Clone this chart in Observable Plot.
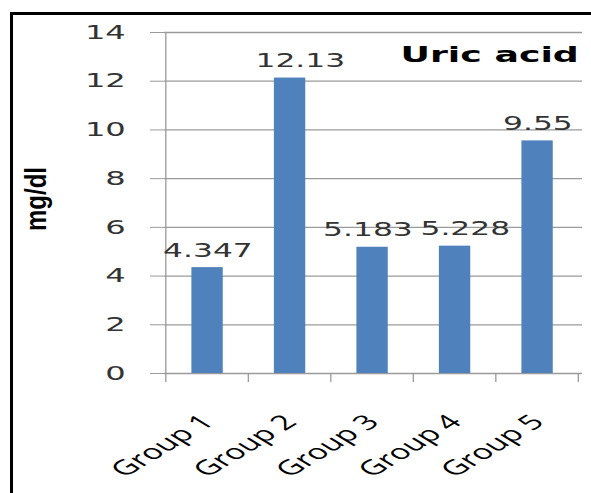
<!DOCTYPE html>
<html>
<head>
<meta charset="utf-8">
<script src="https://cdn.jsdelivr.net/npm/d3@7"></script>
<script src="https://cdn.jsdelivr.net/npm/@observablehq/plot@0.6"></script>
<style>
  html, body { margin: 0; padding: 0; background: #fff; overflow: hidden; }
  #wrap { position: relative; width: 591px; height: 493px; overflow: hidden; background: #fff; }
  #border { position: absolute; left: 10px; top: 12px; width: 700px; height: 700px; border: 3px solid #000; box-sizing: border-box; pointer-events: none; }
  #ylabel { position: absolute; left: 36px; top: 199px; transform: translate(-50%, -50%) rotate(-90deg) scaleY(1.25); font-family: "Liberation Sans", Arial, sans-serif; font-weight: bold; font-size: 24px; color: #000; white-space: nowrap; line-height: 1; }
  #chart { position: absolute; left: 0; top: 0; }
  #chart svg * { vector-effect: non-scaling-stroke; }
</style>
</head>
<body>
<div id="wrap">
  <div id="chart"></div>
  <div id="ylabel">mg/dl</div>
  <div id="border"></div>
</div>
<script>
const groups = ["Group 1", "Group 2", "Group 3", "Group 4", "Group 5"];
const values = [4.347, 12.13, 5.183, 5.228, 9.55];
const valueLabels = ["4.347", "12.13", "5.183", "5.228", "9.55"];
const yTicks = [0, 2, 4, 6, 8, 10, 12, 14];
const title = "Uric acid";

const data = groups.map((g, i) => ({group: g, value: values[i], label: valueLabels[i]}));

const SCREEN_W = 591, H = 493;
const SX = 1.65;               // horizontal stretch of the original picture
const W = SCREEN_W / SX;       // logical width

const gridColor = "#9a9a9a";

function axisLines(index, scales, channels, dims) {
  const x = scales.x, y = scales.y;
  const step = x(groups[1]) - x(groups[0]);
  const bw = typeof x.bandwidth === "function" ? x.bandwidth()
    : (scales.scales && scales.scales.x && scales.scales.x.bandwidth != null ? scales.scales.x.bandwidth : 0);
  const y0 = y(0), yTop = y(d3.max(yTicks));
  const g = d3.create("svg:g").attr("stroke", gridColor).attr("fill", "none").attr("stroke-width", 1.3);
  const xl = x(groups[0]) + bw / 2 - step / 2;
  g.append("line").attr("x1", xl).attr("x2", xl).attr("y1", yTop).attr("y2", y0 + 9);
  for (const grp of groups) {
    const xb = x(grp) + bw / 2 + step / 2;
    g.append("line").attr("x1", xb).attr("x2", xb).attr("y1", y0).attr("y2", y0 + 9);
  }
  return g.node();
}

const chart = Plot.plot({
  width: W,
  height: H,
  marginLeft: 164 / SX,
  marginRight: (SCREEN_W - 582) / SX,
  marginTop: 32,
  marginBottom: 120,
  style: {background: "transparent", fontFamily: "DejaVu Sans, sans-serif", color: "#333", overflow: "visible"},
  x: {domain: groups, paddingInner: 0.617, paddingOuter: 0.3085, label: null},
  y: {domain: [0, 14], label: null},
  marks: [
    Plot.gridY(yTicks, {stroke: gridColor, strokeOpacity: 1, strokeWidth: 1.3}),
    Plot.axisY(yTicks, {tickSize: 14 / SX, tickPadding: 25 / SX, stroke: gridColor, strokeOpacity: 1, fontSize: 19.5, fill: "#333", label: null}),
    Plot.barY(data, {x: "group", y: "value", fill: "#4F81BD"}),
    axisLines,
    Plot.text(data, {filter: d => d.group === "Group 1" || d.group === "Group 5", x: "group", y: "value", text: "label", lineAnchor: "bottom", dy: -11, fontSize: 19, fill: "#333"}),
    Plot.text(data, {filter: d => d.group === "Group 2" || d.group === "Group 4", x: "group", y: "value", text: "label", lineAnchor: "bottom", dy: -11, dx: 6, fontSize: 19, fill: "#333"}),
    Plot.text(data, {filter: d => d.group === "Group 3", x: "group", y: "value", text: "label", lineAnchor: "bottom", dy: -11, dx: -3, fontSize: 19, fill: "#333"}),
    Plot.axisX({tickRotate: -45, tickSize: 0, tickPadding: 45, fontSize: 20.5, fontFamily: "Open Sans, sans-serif", fill: "#000", label: null}),
    Plot.text([title], {frameAnchor: "top-right", textAnchor: "end", lineAnchor: "top", dx: -4 / SX, dy: 14, fontWeight: "bold", fontSize: 22, fill: "#000"})
  ]
});

chart.setAttribute("width", SCREEN_W);
chart.setAttribute("height", H);
chart.setAttribute("viewBox", `0 0 ${W} ${H}`);
chart.setAttribute("preserveAspectRatio", "none");
chart.style.width = SCREEN_W + "px";
chart.style.height = H + "px";
chart.style.maxWidth = "none";
document.getElementById("chart").appendChild(chart);
</script>
</body>
</html>
